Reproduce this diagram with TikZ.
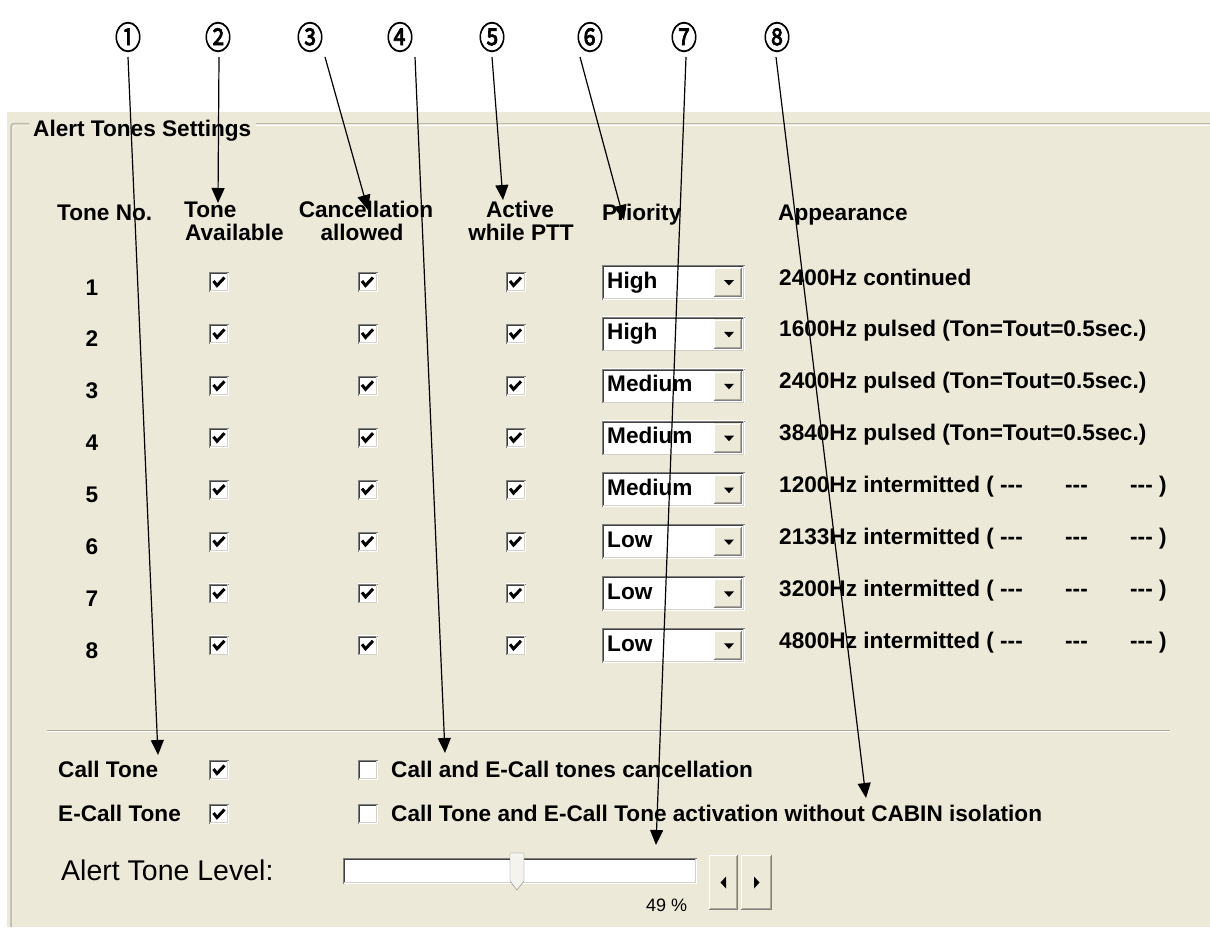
\documentclass[tikz,border=0pt]{standalone}
\usepackage{fontspec}
\usepackage{graphicx}
\setmainfont{Liberation Sans}
\newfontfamily\circfont{Noto Sans CJK JP}[AutoFakeBold=2.5]
\usetikzlibrary{arrows.meta}

\definecolor{panel}{HTML}{ECE9D8}
\definecolor{frameline}{HTML}{BDB9AB}
\definecolor{shadeA}{HTML}{808080}
\definecolor{shadeB}{HTML}{404040}
\definecolor{shadeC}{HTML}{D4D0C8}
\definecolor{shadeD}{HTML}{ACA899}
\definecolor{thumbface}{HTML}{F4F3EE}

\newcommand{\uifont}{\fontsize{22.6}{23}\selectfont\bfseries}
\newcommand{\dashes}{-{}-{}-}

% left, top, right, bottom
\newcommand{\sunkrect}[4]{%
    \fill[white] (#1,#2) rectangle (#3,#4);
    \draw[shadeA] (#1+0.5,#4) -- (#1+0.5,#2+0.5) -- (#3,#2+0.5);
    \draw[shadeB] (#1+1.5,#4-1) -- (#1+1.5,#2+1.5) -- (#3-1,#2+1.5);
    \draw[shadeC] (#1+1,#4-1.5) -- (#3-1.5,#4-1.5) -- (#3-1.5,#2+1);
}
\newcommand{\raisedrect}[4]{%
    \fill[panel] (#1,#2) rectangle (#3,#4);
    \draw[white] (#1+0.5,#4-1) -- (#1+0.5,#2+0.5) -- (#3-1,#2+0.5);
    \draw[shadeA] (#1,#4-0.5) -- (#3-0.5,#4-0.5) -- (#3-0.5,#2);
    \draw[shadeD] (#1+1,#4-1.5) -- (#3-1.5,#4-1.5) -- (#3-1.5,#2+1);
}
% x, y centre
\newcommand{\tickbox}[2]{\sunkrect{#1-10}{#2-10}{#1+10}{#2+10}}
\newcommand{\tickmark}[2]{\draw[line width=3pt] (#1-5.5,#2-1) -- (#1-2,#2+3.5) -- (#1+5.5,#2-4.5);}
% y centre, level, node name
\newcommand{\prioritybox}[3]{%
    \sunkrect{602}{#1-17.5}{745}{#1+17.5}
    \raisedrect{714}{#1-14.5}{742}{#1+14.5}
    \fill (724,#1-2) -- (734,#1-2) -- (729,#1+3.5) -- cycle;
    \node[uilabel] (#3) at (607,#1+6) {#2};
}

\tikzset{
    uilabel/.style={font=\uifont,inner sep=0pt,anchor=base west},
    uihead/.style={font=\uifont,inner sep=0pt,anchor=base},
    marker/.style={font=\circfont\fontsize{29}{29}\selectfont\bfseries,inner sep=0pt},
    callout/.style={-{Triangle[length=15pt,width=13pt]},line width=1.2pt}
}

\begin{document}
\begin{tikzpicture}[x=1pt,y=-1pt]
    \useasboundingbox (0,0) rectangle (1210,927);
    \fill[white] (0,0) rectangle (1210,927);
    \fill[panel] (7,112) rectangle (1210,927);

    % group frame
    \draw[frameline,line width=1.5pt,rounded corners=3pt] (11,927) -- (11,123.5) -- (29,123.5);
    \draw[frameline,line width=1.5pt] (256,123.5) -- (1210,123.5);
    \draw[white,rounded corners=3pt] (13,927) -- (13,125.5) -- (29,125.5);
    \draw[white] (256,125.5) -- (1210,125.5);
    \node[uilabel] (title) at (33,136) {Alert Tones Settings};

    % column heads
    \node[uilabel] (hdno) at (57,220) {Tone No.};
    \node[uilabel] (hdavail) at (184,217) {Tone};
    \node[uilabel] (hdavail2) at (185,240) {Available};
    \node[uihead] (hdcanc) at (366,217) {Cancellation};
    \node[uihead] (hdcanc2) at (362,240) {allowed};
    \node[uihead] (hdptt) at (520,217) {Active};
    \node[uihead] (hdptt2) at (521,240) {while PTT};
    \node[uilabel] (hdprio) at (602,220) {Priority};
    \node[uilabel] (hdlook) at (778,220) {Appearance};

    % tone rows
    \foreach \k/\prio/\tone in {1/High/2400Hz continued,
            2/High/1600Hz pulsed (Ton=Tout=0.5sec.),
            3/Medium/2400Hz pulsed (Ton=Tout=0.5sec.),
            4/Medium/3840Hz pulsed (Ton=Tout=0.5sec.),
            5/Medium/1200Hz intermitted ( \dashes,
            6/Low/2133Hz intermitted ( \dashes,
            7/Low/3200Hz intermitted ( \dashes,
            8/Low/4800Hz intermitted ( \dashes} {
        \pgfmathsetmacro\yc{282+51.9*(\k-1)}
        \node[uihead] (num\k) at (92,\yc+13) {\k};
        \foreach \cx in {219,367.5,515.5} {
            \tickbox{\cx}{\yc}
            \tickmark{\cx}{\yc}
        }
        \prioritybox{\yc}{\prio}{prio\k}
        \node[uilabel] (tone\k) at (779,\yc+3) {\tone};
    }
    \foreach \k in {5,...,8} {
        \pgfmathsetmacro\yc{282+51.9*(\k-1)}
        \node[uilabel] (gapa\k) at (1065,\yc+3) {\dashes};
        \node[uilabel] (gapb\k) at (1130,\yc+3) {\dashes\ )};
    }

    % separator
    \draw[shadeD] (47,730) -- (1170,730);
    \draw[white] (47,731.5) -- (1170,731.5);

    % call tone options
    \node[uilabel] (calltone) at (58,777) {Call Tone};
    \node[uilabel] (ecalltone) at (58,821) {E-Call Tone};
    \tickbox{219}{770} \tickmark{219}{770}
    \tickbox{219}{814} \tickmark{219}{814}
    \tickbox{367.5}{770}
    \tickbox{367.5}{814}
    \node[uilabel] (cancopt) at (391,777) {Call and E-Call tones cancellation};
    \node[uilabel] (cabinopt) at (391,821) {Call Tone and E-Call Tone activation without CABIN isolation};

    % level slider
    \node[font=\fontsize{28.5}{30}\selectfont,inner sep=0pt,anchor=base west] (levellabel) at (61,880) {Alert Tone Level:};
    \sunkrect{343}{858}{697}{884}
    \filldraw[fill=thumbface,draw=shadeA] (510,853) -- (524,853) -- (524,881) -- (517,890) -- (510,881) -- cycle;
    \raisedrect{709}{855}{738}{910}
    \raisedrect{741}{855}{772}{910}
    \fill (726,876.5) -- (726,888.5) -- (720.5,882.5) -- cycle;
    \fill (754,876.5) -- (754,888.5) -- (759.5,882.5) -- cycle;
    \node[font=\fontsize{18}{20}\selectfont,inner sep=0pt,anchor=base west] (levelval) at (646,911.5) {49 \%};

    % numbered callouts
    \foreach \i/\x/\g in {1/128/①,2/218/②,3/310/③,4/400/④,5/492/⑤,6/590/⑥,7/684/⑦,8/777/⑧}
        \node[marker] (m\i) at (\x,37) {\scalebox{0.9}[1.1]{\g}};
    \foreach \i/\sx/\tx/\ty in {1/128/158/755,2/219/218/203,3/325/368/210,4/415/445/753,
            5/492/503/200,6/580/624/220,7/686/656/845,8/776/866/798} {
        \coordinate (s\i) at (\sx,57);
        \coordinate (t\i) at (\tx,\ty);
        \draw[callout] (s\i) -- (t\i);
    }
\end{tikzpicture}
\end{document}
